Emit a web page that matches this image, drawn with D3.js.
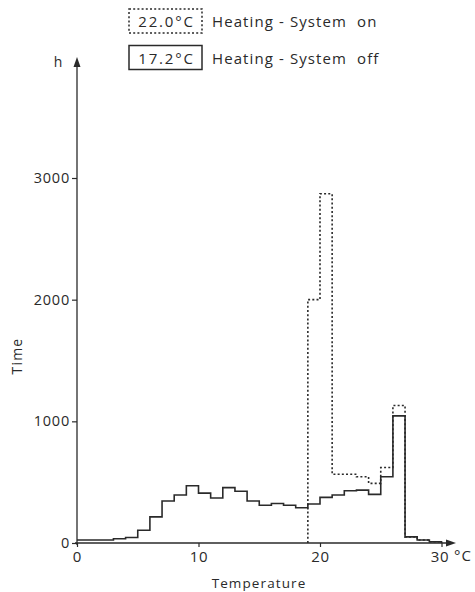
<!DOCTYPE html>
<html>
<head>
<meta charset="utf-8">
<script src="https://cdn.jsdelivr.net/npm/d3@7"></script>
<style>
  html, body { margin: 0; padding: 0; background: #ffffff; }
  svg { display: block; }
  text { font-family: "Open Sans", "DejaVu Sans", sans-serif; fill: #2a2a2a; }
</style>
</head>
<body>
<svg id="chart" width="475" height="592"></svg>
<script>
// Hourly temperature distribution, 1 °C bins from 0 to 30 °C
const binStarts = d3.range(0, 30);
// Heating system off (free-running room temperature, mean 17.2 °C)
const hoursOff = [25, 25, 25, 35, 45, 105, 215, 345, 395, 470,
                  410, 370, 455, 425, 345, 310, 325, 310, 290, 320,
                  375, 395, 430, 435, 400, 545, 1045, 50, 25, 10];
// Heating system on (mean 22.0 °C); nothing below 19 °C
const onStart = 19;
const hoursOn = [2000, 2870, 565, 565, 545, 490, 620, 1130, 50, 25, 10];

const xTicks = [0, 10, 20, 30];
const yTicks = [0, 1000, 2000, 3000];
const legendItems = [
  { label: "22.0°C", text: "Heating - System  on", dotted: true },
  { label: "17.2°C", text: "Heating - System  off", dotted: false }
];

const svg = d3.select("#chart");
const ink = "#2a2a2a";

const x = d3.scaleLinear().domain([0, 30]).range([77, 441.5]);
const y = d3.scaleLinear().domain([0, 3000]).range([543, 178]);

// Axes
const yAxis = d3.axisLeft(y).tickValues(yTicks).tickSize(5).tickPadding(2).tickFormat(d3.format("d"));
const gy = svg.append("g").attr("transform", `translate(${x(0)},0)`).call(yAxis);
gy.select(".domain").remove();
gy.selectAll("line").attr("stroke", ink).attr("stroke-width", 1.2);
gy.selectAll("text").attr("font-size", 14.5).attr("fill", ink)
  .style("font-family", "Open Sans").style("letter-spacing", "0.8px");

const xAxis = d3.axisBottom(x).tickValues(xTicks).tickSize(4).tickPadding(4).tickFormat(d3.format("d"));
const gx = svg.append("g").attr("transform", `translate(0,${y(0)})`).call(xAxis);
gx.select(".domain").remove();
gx.selectAll("line").attr("stroke", ink).attr("stroke-width", 1.2);
gx.selectAll("text").attr("font-size", 15).attr("fill", ink)
  .style("font-family", "Open Sans").style("letter-spacing", "0.8px");
gx.selectAll(".tick").filter(d => d === 30).select("text").attr("dx", -2);

// Axis lines with arrow heads
svg.append("line").attr("x1", x(0)).attr("x2", x(0)).attr("y1", y(0) + 2).attr("y2", 62)
  .attr("stroke", ink).attr("stroke-width", 1.3);
svg.append("path").attr("d", `M${x(0)},57 L${x(0) - 3.5},67 L${x(0) + 3.5},67 Z`).attr("fill", ink);
svg.append("line").attr("x1", x(0) - 2).attr("x2", 450).attr("y1", y(0)).attr("y2", y(0))
  .attr("stroke", ink).attr("stroke-width", 1.3);
svg.append("path").attr("d", `M456,${y(0)} L446,${y(0) - 3.5} L446,${y(0) + 3.5} Z`).attr("fill", ink);

svg.append("text").attr("x", 58).attr("y", 67).attr("font-size", 14).attr("text-anchor", "middle").text("h");
svg.append("text").attr("x", 463).attr("y", 561).attr("font-size", 15).attr("text-anchor", "middle")
  .style("letter-spacing", "1px").text("°C");
svg.append("text").attr("x", 259).attr("y", 588).attr("font-size", 13.5).attr("text-anchor", "middle")
  .style("letter-spacing", "1.1px").text("Temperature");
svg.append("text").attr("transform", "translate(22,356) rotate(-90)").attr("font-size", 14)
  .attr("text-anchor", "middle").style("letter-spacing", "1.2px").text("Time");

// Histogram outlines
const step = d3.line().x(d => x(d[0])).y(d => y(d[1])).curve(d3.curveStepAfter);

const offPts = binStarts.map((b, i) => [b, hoursOff[i]]);
offPts.push([30, 0]);
svg.append("path").attr("d", step(offPts)).attr("fill", "none")
  .attr("stroke", ink).attr("stroke-width", 1.6);

const onPts = [[onStart, 0]].concat(hoursOn.map((v, i) => [onStart + i, v]));
onPts.push([30, 0]);
svg.append("path").attr("d", step(onPts)).attr("fill", "none")
  .attr("stroke", ink).attr("stroke-width", 1.6).attr("stroke-dasharray", "2,2.2");

// Legend
const lg = svg.append("g");
legendItems.forEach((it, i) => {
  const top = 9 + i * 36.5;
  lg.append("rect").attr("x", 129).attr("y", top).attr("width", 73).attr("height", 24)
    .attr("fill", "none").attr("stroke", ink).attr("stroke-width", 1.5)
    .attr("stroke-dasharray", it.dotted ? "2,2.2" : null);
  lg.append("text").attr("x", 166.5).attr("y", top + 18).attr("font-size", 15)
    .attr("text-anchor", "middle").style("letter-spacing", "1.8px").text(it.label);
  lg.append("text").attr("x", 212).attr("y", top + 18).attr("font-size", 15)
    .style("white-space", "pre").style("letter-spacing", "1.1px").text(it.text);
});
</script>
</body>
</html>
